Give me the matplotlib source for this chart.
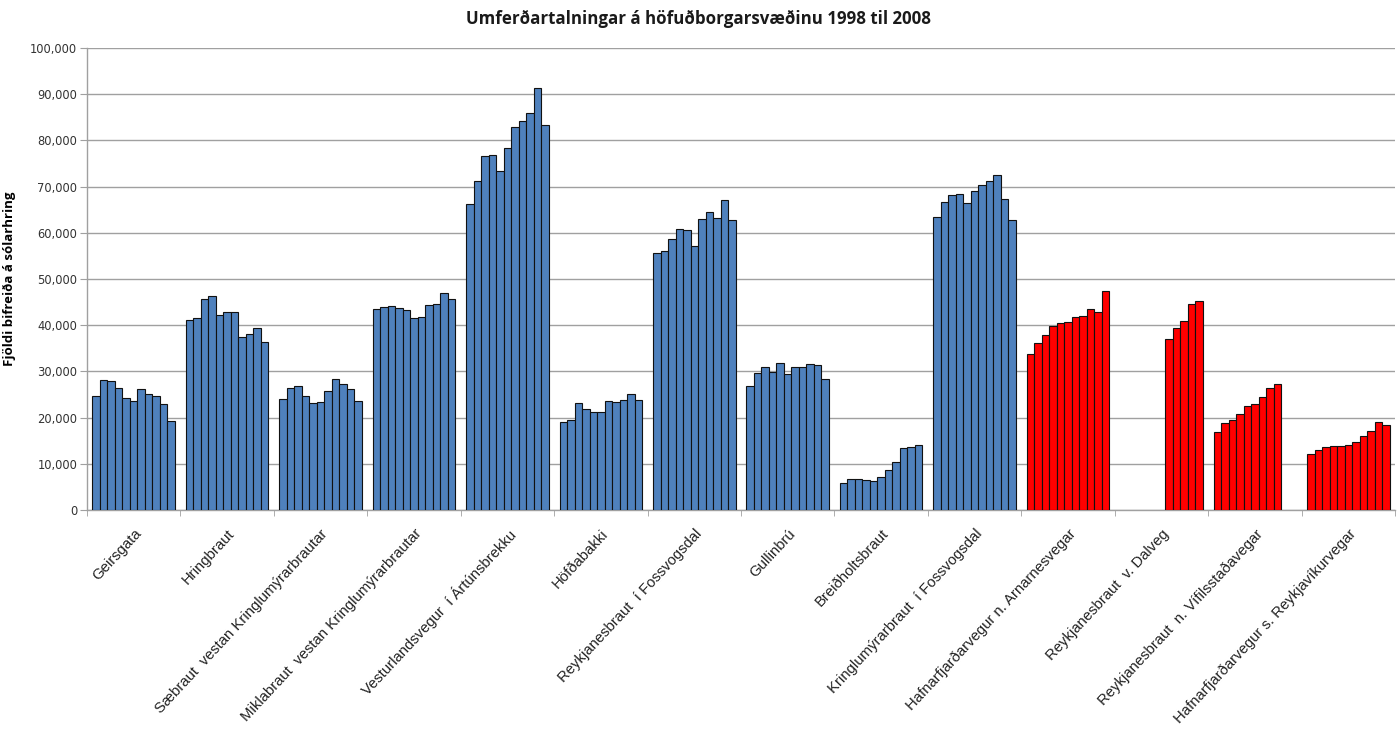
import matplotlib
matplotlib.use("Agg")
import matplotlib.pyplot as plt
import numpy as np

years = list(range(1998, 2009))

categories = [
    "Geirsgata",
    "Hringbraut",
    "Sæbraut  vestan Kringlumýrarbrautar",
    "Miklabraut  vestan Kringlumýrarbrautar",
    "Vesturlandsvegur  í Ártúnsbrekku",
    "Höfðabakki",
    "Reykjanesbraut  í Fossvogsdal",
    "Gullinbrú",
    "Breiðholtsbraut",
    "Kringlumýrarbraut  í Fossvogsdal",
    "Hafnarfjarðarvegur n. Arnarnesvegar",
    "Reykjanesbraut  v. Dalveg",
    "Reykjanesbraut  n. Vífilsstaðavegar",
    "Hafnarfjarðarvegur s. Reykjavíkurvegar",
]

N = None
geirsgata = [24700, 28200, 27900, 26300, 24200, 23600, 26100, 25200, 24700, 22900, 19200]
hringbraut = [41200, 41600, 45700, 46400, 42300, 42900, 42900, 37400, 38100, 39400, 36300]
saebraut = [24100, 26300, 26800, 24700, 23200, 23400, 25700, 28400, 27300, 26100, 23600]
miklabraut = [43400, 43900, 44100, 43700, 43200, 41600, 41800, 44400, 44600, 46900, 45700]
vesturlandsvegur = [66200, 71300, 76600, 76800, 73300, 78400, 82800, 84200, 86000, 91300, 83400]
hofdabakki = [19000, 19500, 23200, 21800, 21300, 21300, 23600, 23400, 23800, 25000, 23800]
reykjanesbraut_fossv = [55600, 56100, 58600, 60900, 60700, 57200, 63000, 64400, 63200, 67100, 62700]
gullinbru = [26800, 29600, 31000, 29900, 31900, 29400, 31000, 31000, 31700, 31400, 28400]
breidholtsbraut = [5900, 6800, 6800, 6600, 6300, 7200, 8700, 10300, 13500, 13700, 14100]
kringlumyrarbraut_fossv = [63500, 66600, 68100, 68300, 66400, 69000, 70300, 71100, 72400, 67400, 62700]
hafnarfj_arnarnes = [33700, 36200, 37900, 39900, 40400, 40600, 41800, 42000, 43600, 42900, 47500]
reykjanesbraut_dalveg = [N, N, N, N, N, N, 37000, 39400, 40900, 44500, 45300]
reykjanesbraut_vifils = [16900, 18800, 19500, 20800, 22500, 22900, 24500, 26400, 27300, N, N]
hafnarfj_reykjavik = [12100, 12900, 13700, 13900, 13900, 14100, 14800, 16000, 17100, 19000, 18500]

series = [geirsgata, hringbraut, saebraut, miklabraut, vesturlandsvegur, hofdabakki,
          reykjanesbraut_fossv, gullinbru, breidholtsbraut, kringlumyrarbraut_fossv,
          hafnarfj_arnarnes, reykjanesbraut_dalveg, reykjanesbraut_vifils, hafnarfj_reykjavik]
red_groups = [10, 11, 12, 13]

blue = "#4F81BD"
red = "#FF0000"

fig = plt.figure(figsize=(13.98, 7.29), dpi=100)
ax = fig.add_axes([0.0622, 0.3004, 0.9357, 0.6338])

bw = 0.0803
for gi, vals in enumerate(series):
    color = red if gi in red_groups else blue
    for yi, v in enumerate(vals):
        if v is None:
            continue
        x = gi + 0.5 + (yi - 5) * bw
        ax.bar(x, v, width=bw, color=color, edgecolor="#111111", linewidth=0.8, zorder=3)

ax.set_xlim(0, len(categories))
ax.set_ylim(0, 100000)
ax.set_yticks(np.arange(0, 100001, 10000))
ax.set_yticklabels([f"{v:,}" for v in range(0, 100001, 10000)], fontsize=8.3,
                   family="DejaVu Sans", color="#333333")
ax.yaxis.grid(True, color="#A0A0A0", linewidth=1.0, zorder=0)
ax.set_axisbelow(True)

ax.set_xticks(np.arange(len(categories)) + 0.5)
ax.set_xticklabels(categories, rotation=47, ha="right", va="top", rotation_mode="anchor",
                   fontsize=10.7, family="Liberation Sans", color="#222222")
ax.tick_params(axis="x", which="major", length=0, pad=12)
ax.set_xticks(np.arange(0, len(categories) + 1), minor=True)
ax.tick_params(axis="x", which="minor", length=4, color="#A0A0A0", direction="out")
ax.tick_params(axis="y", length=5, color="#A0A0A0", direction="out", pad=2)

for s in ["top", "right"]:
    ax.spines[s].set_visible(False)
for s in ["left", "bottom"]:
    ax.spines[s].set_color("#A0A0A0")
    ax.spines[s].set_linewidth(1.0)

ax.set_ylabel("Fjöldi bifreiða á sólarhring", fontsize=9.5, fontweight="bold",
              family="Open Sans")
ax.yaxis.set_label_coords(-0.0545, 0.5)
fig.text(0.5, 0.974, "Umferðartalningar á höfuðborgarsvæðinu 1998 til 2008",
         ha="center", va="center", fontsize=12.2, fontweight="bold", family="Open Sans",
         color="#1a1a1a")

fig.savefig("out.png", dpi=100)
